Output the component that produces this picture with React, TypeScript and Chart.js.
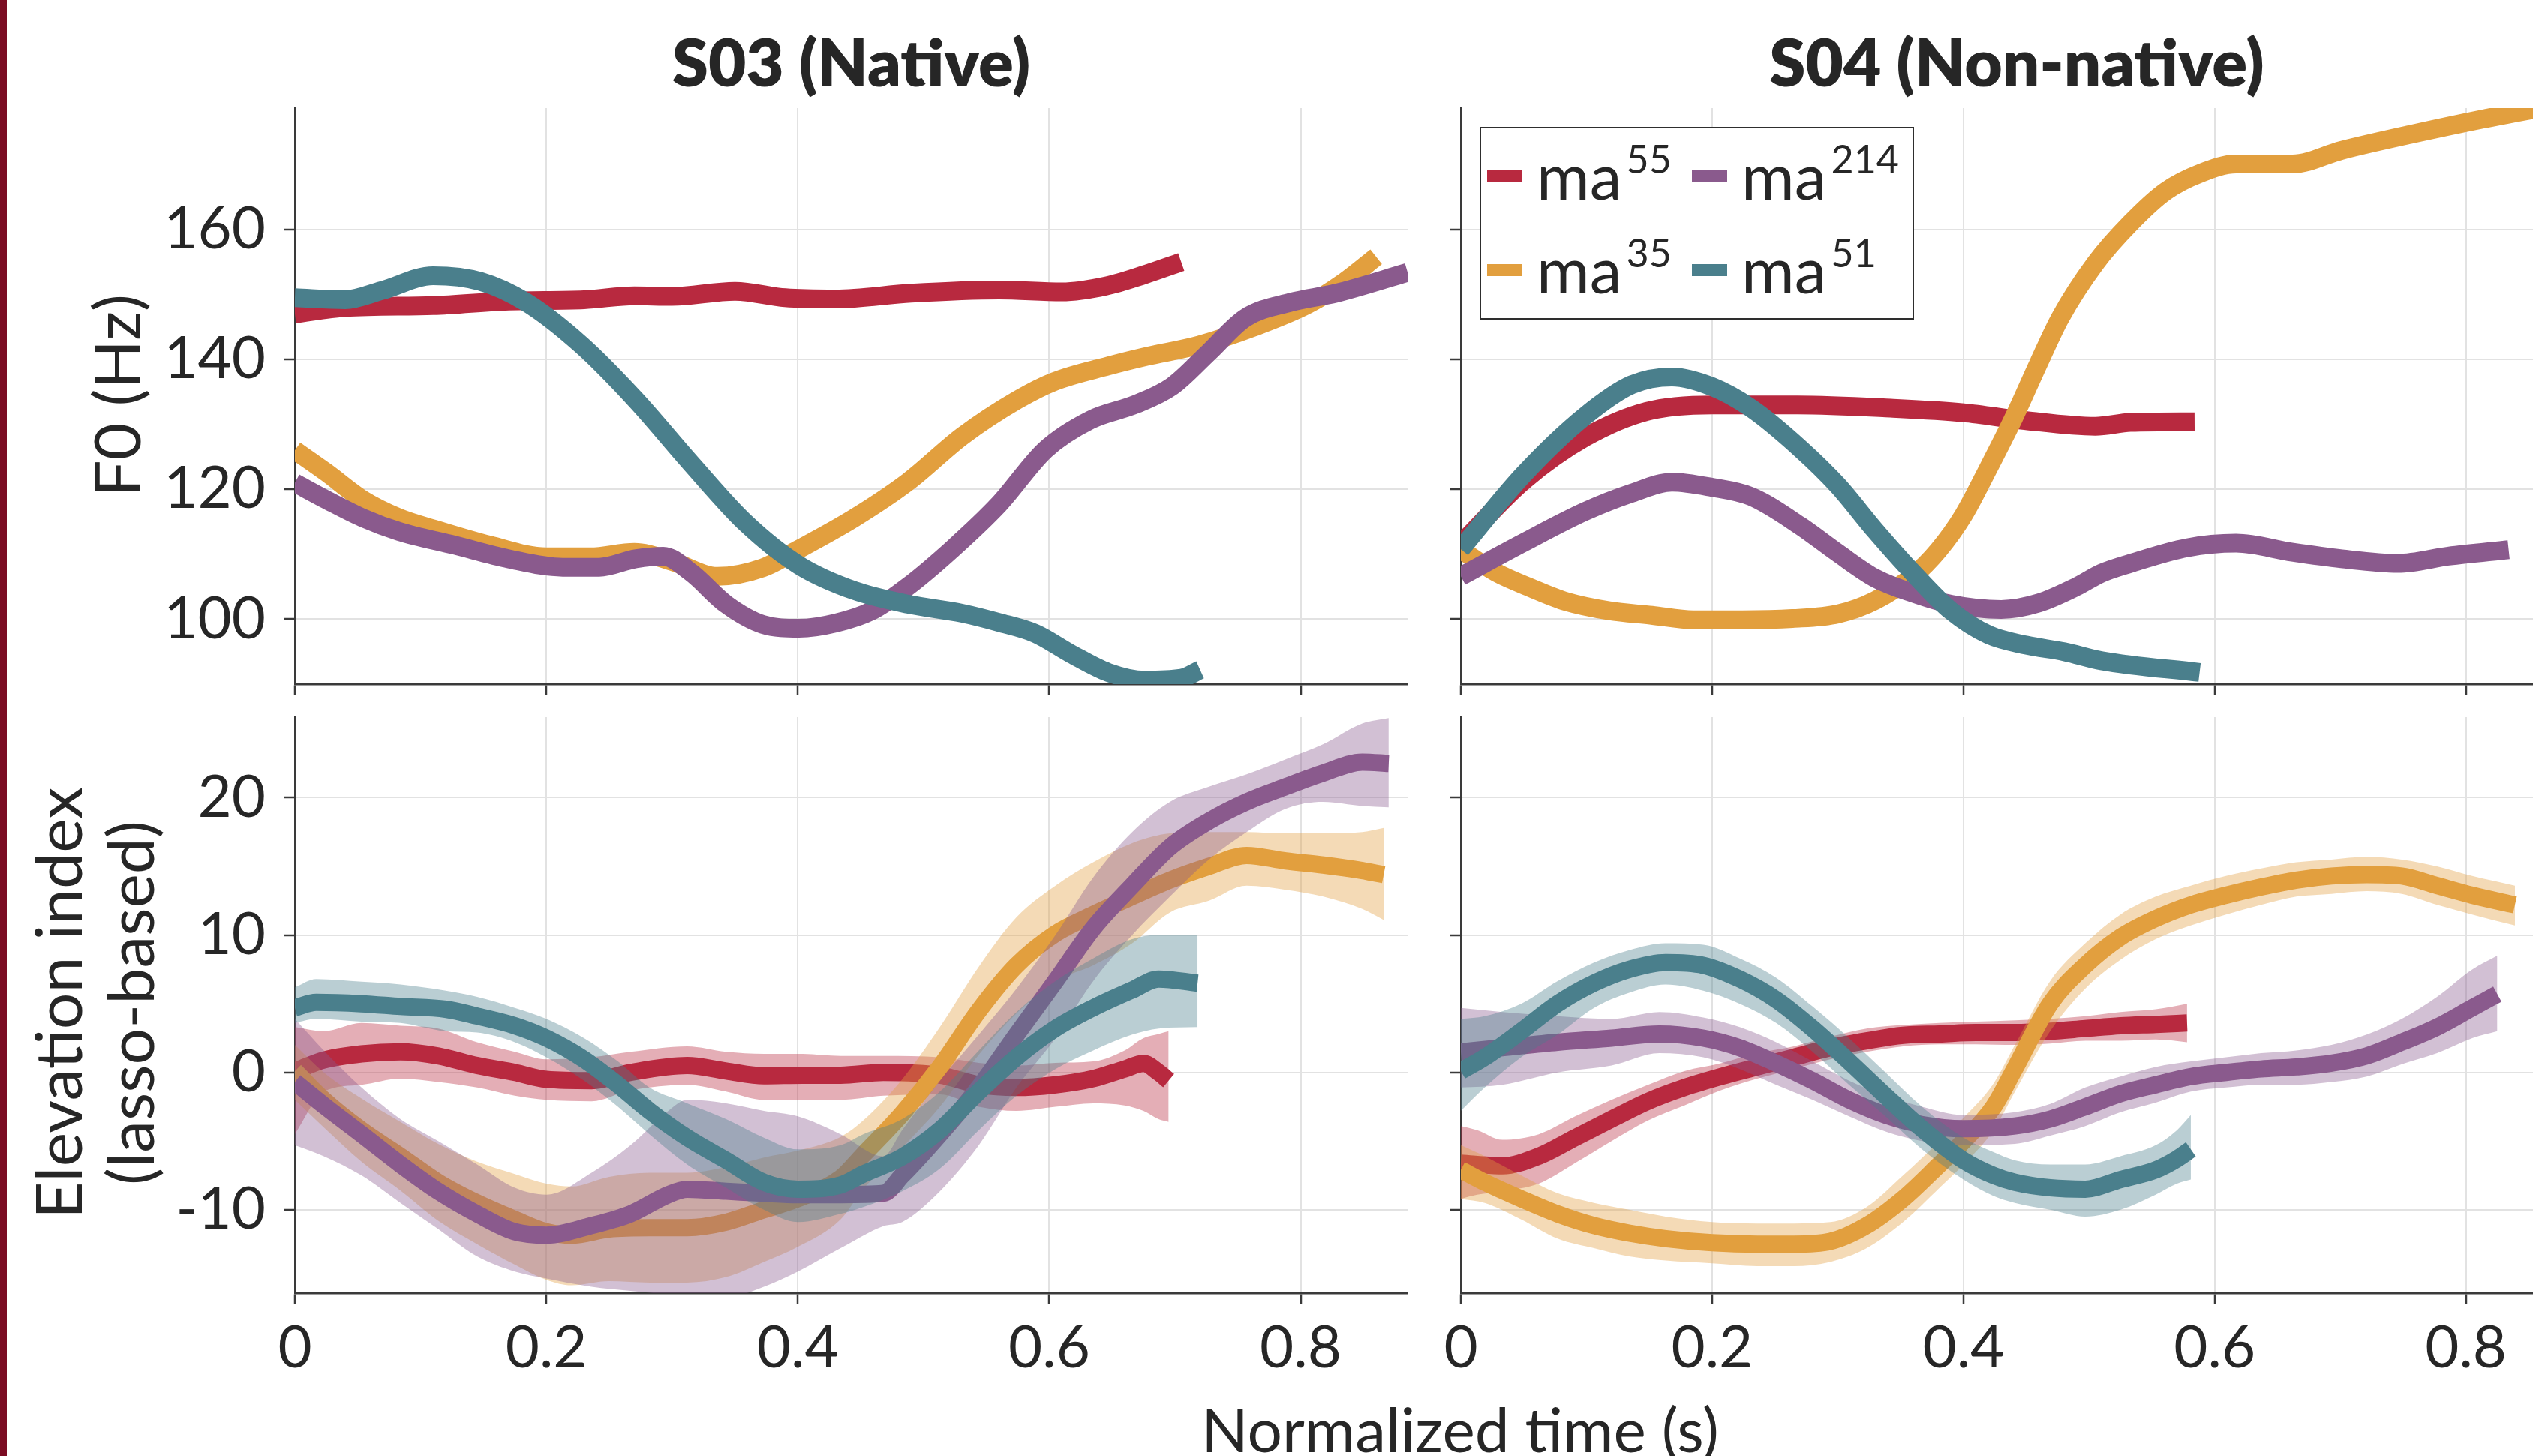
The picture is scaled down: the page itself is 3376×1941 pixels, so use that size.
import React, { useEffect, useRef } from "react";
import { Chart, registerables } from "chart.js";

Chart.register(...registerables);

// ---------- style constants ----------
const FONT = "Lato, 'Open Sans', 'DejaVu Sans', sans-serif";
const TEXT = "#262626";
const AXIS = "#3a3a3a";
const GRID = "#e2e2e2";

// ---------- categories / ticks ----------
const SERIES_KEYS = ["ma55", "ma35", "ma214", "ma51"]; // drawing order
const SERIES_SUP = { ma55: "55", ma35: "35", ma214: "214", ma51: "51" };
const SERIES_COLOR = { ma55: "#B8293F", ma35: "#E29F3E", ma214: "#8A5A8D", ma51: "#4A7F8C" };
const SERIES_BAND = {
  ma55: "rgba(184,41,63,0.38)",
  ma35: "rgba(226,159,62,0.38)",
  ma214: "rgba(138,90,141,0.38)",
  ma51: "rgba(74,127,140,0.38)",
};
const PANEL_TITLES = ["S03 (Native)", "S04 (Non-native)"];
const X_TITLE = "Normalized time (s)";
const F0_TITLE = ["F0 (Hz)"];
const ELEV_TITLE = ["Elevation index", "(lasso-based)"];

const X_TICKS = [0, 0.2, 0.4, 0.6, 0.8];
const F0_TICKS = [100, 120, 140, 160];
const ELEV_TICKS = [-10, 0, 10, 20];
const X_RANGE = [0, 0.885];
const F0_RANGE = [90, 178.7];
const ELEV_RANGE = [-16.07, 25.87];

// ---------- S03 F0 (top-left) ----------
const s03F0_ma55_t = [0, 0.04, 0.11, 0.17, 0.23, 0.27, 0.3, 0.35, 0.39, 0.43, 0.49, 0.56, 0.61, 0.645, 0.675, 0.705];
const s03F0_ma55 = [147.0, 148.0, 148.3, 149.0, 149.2, 149.8, 149.7, 150.5, 149.5, 149.3, 150.2, 150.7, 150.4, 151.3, 153.0, 155.0];
const s03F0_ma35_t = [0, 0.025, 0.054, 0.083, 0.112, 0.155, 0.2, 0.235, 0.27, 0.3, 0.336, 0.372, 0.4, 0.445, 0.488, 0.531, 0.575, 0.604, 0.647, 0.676, 0.719, 0.763, 0.806, 0.835, 0.86];
const s03F0_ma35 = [126.0, 122.6, 118.4, 115.6, 113.8, 111.4, 109.6, 109.6, 110.3, 108.9, 106.6, 107.9, 110.7, 115.6, 121.2, 128.2, 133.8, 136.6, 139.0, 140.4, 142.2, 145.0, 148.5, 152.0, 155.8];
const s03F0_ma214_t = [0, 0.025, 0.054, 0.083, 0.127, 0.17, 0.213, 0.242, 0.271, 0.293, 0.315, 0.343, 0.372, 0.401, 0.43, 0.459, 0.488, 0.524, 0.56, 0.597, 0.633, 0.669, 0.698, 0.727, 0.756, 0.792, 0.828, 0.885];
const s03F0_ma214 = [121.0, 118.4, 115.6, 113.5, 111.4, 109.3, 108.0, 108.0, 109.3, 109.7, 107.2, 102.3, 99.2, 98.6, 99.4, 101.3, 105.1, 111.0, 117.7, 126.1, 130.7, 133.1, 135.9, 141.1, 146.4, 148.8, 150.2, 153.4];
const s03F0_ma51_t = [0, 0.04, 0.069, 0.11, 0.148, 0.184, 0.228, 0.271, 0.315, 0.358, 0.401, 0.445, 0.488, 0.531, 0.56, 0.589, 0.618, 0.647, 0.676, 0.705, 0.72];
const s03F0_ma51 = [149.5, 149.2, 150.6, 152.9, 152.0, 148.8, 142.2, 133.8, 124.0, 114.9, 108.3, 104.4, 102.3, 100.9, 99.5, 97.8, 94.6, 91.8, 90.6, 90.9, 92.2];

// ---------- S04 F0 (top-right) ----------
const s04F0_ma55_t = [0, 0.05, 0.099, 0.148, 0.2, 0.268, 0.342, 0.4, 0.449, 0.505, 0.533, 0.584];
const s04F0_ma55 = [111.6, 121.3, 128.0, 132.0, 133.0, 133.0, 132.5, 131.8, 130.6, 129.7, 130.3, 130.4];
const s04F0_ma35_t = [0, 0.028, 0.056, 0.084, 0.118, 0.152, 0.185, 0.224, 0.264, 0.3, 0.33, 0.36, 0.38, 0.4, 0.42, 0.44, 0.46, 0.477, 0.505, 0.533, 0.561, 0.589, 0.617, 0.662, 0.701, 0.757, 0.813, 0.884];
const s04F0_ma35 = [110.7, 107.2, 104.8, 102.7, 101.3, 100.6, 99.9, 99.9, 100.1, 100.8, 102.9, 106.7, 110.6, 116.0, 123.3, 131.0, 139.5, 146.4, 154.8, 161.0, 165.9, 168.7, 170.1, 170.1, 172.2, 174.7, 177.0, 179.6];
const s04F0_ma214_t = [0, 0.05, 0.099, 0.136, 0.168, 0.2, 0.231, 0.27, 0.3, 0.33, 0.36, 0.39, 0.43, 0.46, 0.49, 0.51, 0.533, 0.578, 0.617, 0.662, 0.701, 0.746, 0.786, 0.834];
const s04F0_ma214 = [106.6, 111.8, 116.6, 119.4, 121.1, 120.3, 118.9, 114.4, 110.2, 106.3, 104.0, 102.3, 101.5, 102.5, 105.0, 107.1, 108.6, 111.0, 111.7, 110.3, 109.3, 108.6, 109.7, 110.7];
const s04F0_ma51_t = [0, 0.05, 0.099, 0.136, 0.168, 0.2, 0.231, 0.27, 0.3, 0.33, 0.36, 0.39, 0.42, 0.45, 0.48, 0.51, 0.588];
const s04F0_ma51 = [110.8, 122.3, 131.3, 136.1, 137.3, 135.8, 132.5, 126.3, 120.6, 113.6, 107.1, 101.3, 97.6, 96.0, 95.0, 93.6, 91.8];

// ---------- S03 elevation (bottom-left): mean, lower, upper ----------
const s03El_ma55_t = [0, 0.023, 0.053, 0.084, 0.114, 0.145, 0.175, 0.2, 0.236, 0.267, 0.312, 0.343, 0.373, 0.404, 0.434, 0.468, 0.513, 0.544, 0.574, 0.605, 0.635, 0.66, 0.675, 0.687, 0.695];
const s03El_ma55 = [0.1, 0.9, 1.35, 1.5, 1.2, 0.5, 0.0, -0.5, -0.6, 0.0, 0.5, 0.1, -0.25, -0.2, -0.2, 0.0, -0.2, -0.9, -1.1, -0.9, -0.45, 0.25, 0.65, 0.0, -0.6];
const s03El_ma55_lo = [-4.5, -1.4, -0.9, -0.45, -0.7, -1.1, -1.7, -2.0, -2.1, -1.3, -0.9, -1.4, -2.0, -2.0, -2.0, -1.7, -1.6, -2.5, -2.8, -2.5, -2.25, -2.4, -2.8, -3.4, -3.6];
const s03El_ma55_hi = [3.3, 3.0, 3.6, 3.4, 3.2, 2.2, 1.5, 0.95, 1.1, 1.5, 1.9, 1.5, 1.35, 1.35, 1.2, 1.2, 1.1, 0.7, 0.5, 0.7, 0.8, 1.6, 2.5, 2.8, 3.0];

const s03El_ma35_t = [0, 0.023, 0.053, 0.084, 0.114, 0.145, 0.175, 0.2, 0.22, 0.25, 0.282, 0.312, 0.343, 0.373, 0.4, 0.434, 0.452, 0.483, 0.513, 0.544, 0.574, 0.605, 0.635, 0.666, 0.696, 0.727, 0.757, 0.788, 0.818, 0.849, 0.866];
const s03El_ma35 = [0.1, -2.0, -4.2, -6.1, -8.0, -9.5, -10.7, -11.6, -11.85, -11.4, -11.3, -11.3, -10.9, -10.0, -9.2, -7.7, -6.0, -3.0, 0.4, 4.5, 7.8, 10.1, 11.5, 12.8, 14.0, 15.0, 15.8, 15.4, 15.1, 14.7, 14.4];
const s03El_ma35_lo = [-2.0, -4.0, -6.5, -8.6, -10.8, -12.5, -14.0, -15.1, -15.5, -15.2, -15.3, -15.3, -14.9, -13.8, -12.7, -10.7, -8.5, -5.5, -2.5, 1.3, 4.3, 6.65, 7.8, 9.4, 11.65, 12.5, 13.6, 13.3, 12.8, 11.9, 11.1];
const s03El_ma35_hi = [2.0, 0.0, -1.9, -3.6, -5.2, -6.5, -7.4, -8.1, -8.3, -7.6, -7.3, -7.3, -6.9, -6.2, -5.7, -4.7, -3.5, -0.5, 3.3, 7.7, 11.3, 13.6, 15.3, 16.7, 17.4, 17.5, 17.5, 17.4, 17.4, 17.5, 17.8];

const s03El_ma214_t = [0, 0.023, 0.053, 0.084, 0.114, 0.145, 0.175, 0.2, 0.236, 0.267, 0.297, 0.312, 0.343, 0.373, 0.4, 0.434, 0.468, 0.483, 0.513, 0.544, 0.574, 0.605, 0.635, 0.666, 0.696, 0.727, 0.757, 0.788, 0.818, 0.849, 0.87];
const s03El_ma214 = [-0.7, -2.4, -4.5, -6.7, -8.65, -10.3, -11.6, -11.85, -11.15, -10.3, -8.9, -8.5, -8.65, -8.8, -8.9, -8.9, -8.8, -7.5, -4.5, -1.1, 2.75, 6.65, 10.5, 13.6, 16.4, 18.3, 19.7, 20.8, 21.8, 22.6, 22.5];
const s03El_ma214_lo = [-5.3, -6.1, -7.5, -9.5, -11.4, -13.4, -14.5, -15.0, -15.6, -15.9, -16.2, -16.4, -16.4, -15.6, -14.5, -12.8, -11.2, -10.9, -8.65, -5.3, -1.1, 2.5, 6.65, 10.0, 12.8, 15.5, 17.5, 19.2, 19.7, 19.4, 19.3];
const s03El_ma214_hi = [3.9, 1.6, -1.1, -3.4, -5.0, -6.7, -8.4, -8.9, -7.3, -5.3, -2.8, -2.0, -2.25, -2.8, -3.2, -4.5, -6.1, -4.2, -0.6, 2.75, 6.1, 10.0, 14.2, 17.5, 19.7, 20.8, 21.7, 22.8, 23.9, 25.4, 25.8];

const s03El_ma51_t = [0, 0.017, 0.053, 0.084, 0.12, 0.145, 0.175, 0.2, 0.23, 0.257, 0.282, 0.312, 0.343, 0.373, 0.4, 0.434, 0.452, 0.483, 0.513, 0.544, 0.574, 0.605, 0.635, 0.666, 0.687, 0.718];
const s03El_ma51 = [4.7, 5.1, 5.0, 4.8, 4.6, 4.1, 3.4, 2.5, 0.95, -0.9, -2.8, -4.75, -6.4, -8.0, -8.5, -8.2, -7.4, -6.15, -4.2, -1.4, 1.1, 3.2, 4.7, 6.0, 6.8, 6.5];
const s03El_ma51_lo = [3.6, 3.9, 3.7, 3.6, 3.0, 2.9, 2.2, 1.1, -0.6, -2.5, -4.5, -6.7, -8.4, -10.0, -10.9, -10.3, -9.8, -8.65, -7.0, -4.2, -1.7, 0.25, 1.6, 2.75, 3.2, 3.3];
const s03El_ma51_hi = [6.2, 6.8, 6.6, 6.4, 5.95, 5.5, 4.7, 3.9, 2.5, 0.8, -1.1, -2.25, -3.4, -4.75, -5.6, -5.3, -4.5, -3.4, -1.4, 1.6, 4.4, 6.65, 8.3, 9.7, 10.0, 10.0];

// ---------- S04 elevation (bottom-right) ----------
const s04El_ma55_t = [0, 0.013, 0.033, 0.062, 0.091, 0.12, 0.149, 0.178, 0.207, 0.236, 0.265, 0.294, 0.323, 0.352, 0.381, 0.41, 0.441, 0.469, 0.497, 0.525, 0.553, 0.578];
const s04El_ma55 = [-6.6, -6.7, -6.8, -6.1, -4.75, -3.4, -2.1, -1.1, -0.3, 0.4, 1.1, 1.8, 2.3, 2.7, 2.8, 2.9, 2.9, 3.0, 3.2, 3.4, 3.5, 3.6];
const s04El_ma55_lo = [-9.2, -8.9, -8.65, -8.1, -6.6, -5.0, -3.5, -2.4, -1.3, -0.45, 0.25, 0.95, 1.5, 1.9, 2.05, 2.05, 2.0, 2.1, 2.3, 2.3, 2.4, 2.2];
const s04El_ma55_hi = [-3.9, -4.2, -4.9, -4.5, -3.2, -2.0, -0.9, 0.1, 0.67, 1.4, 1.9, 2.6, 3.2, 3.45, 3.6, 3.7, 3.8, 3.9, 4.1, 4.4, 4.6, 5.0];

const s04El_ma35_t = [0, 0.019, 0.048, 0.077, 0.106, 0.134, 0.163, 0.2, 0.236, 0.265, 0.294, 0.323, 0.352, 0.381, 0.4, 0.424, 0.441, 0.469, 0.497, 0.525, 0.553, 0.581, 0.609, 0.637, 0.665, 0.693, 0.721, 0.749, 0.777, 0.805, 0.839];
const s04El_ma35 = [-7.1, -8.0, -9.2, -10.3, -11.15, -11.7, -12.1, -12.4, -12.5, -12.5, -12.3, -11.15, -9.2, -6.7, -5.0, -2.5, 0.3, 5.0, 7.8, 9.85, 11.2, 12.2, 12.9, 13.5, 14.0, 14.3, 14.4, 14.3, 13.6, 12.9, 12.2];
const s04El_ma35_lo = [-9.2, -9.5, -10.7, -12.1, -12.8, -13.4, -13.7, -13.9, -14.1, -14.1, -13.8, -12.8, -10.9, -8.4, -6.7, -4.2, -1.4, 3.0, 6.1, 8.2, 9.7, 10.7, 11.5, 12.2, 12.8, 13.0, 13.2, 13.0, 12.2, 11.5, 10.7];
const s04El_ma35_hi = [-5.3, -6.1, -7.5, -8.8, -9.5, -10.0, -10.5, -10.9, -11.0, -11.0, -10.9, -9.8, -7.5, -5.0, -3.3, -0.8, 2.0, 6.65, 9.4, 11.5, 12.8, 13.6, 14.3, 14.85, 15.3, 15.5, 15.7, 15.5, 15.0, 14.3, 13.6];

const s04El_ma214_t = [0, 0.033, 0.077, 0.12, 0.158, 0.193, 0.222, 0.251, 0.28, 0.309, 0.338, 0.367, 0.4, 0.441, 0.469, 0.497, 0.525, 0.553, 0.581, 0.609, 0.637, 0.665, 0.693, 0.721, 0.749, 0.777, 0.805, 0.825];
const s04El_ma214 = [1.5, 1.8, 2.2, 2.5, 2.8, 2.5, 1.8, 0.67, -0.6, -2.0, -3.1, -3.8, -4.1, -3.9, -3.4, -2.5, -1.55, -0.9, -0.3, 0.0, 0.25, 0.4, 0.67, 1.2, 2.2, 3.3, 4.7, 5.7];
const s04El_ma214_lo = [-1.1, -0.9, 0.0, 0.5, 1.4, 1.1, 0.25, -0.9, -2.0, -3.2, -4.3, -5.0, -5.3, -5.2, -4.6, -3.9, -2.9, -2.2, -1.4, -1.1, -0.9, -0.9, -0.7, -0.3, 0.6, 1.4, 2.5, 3.0];
const s04El_ma214_hi = [4.7, 4.4, 4.1, 3.9, 4.4, 4.0, 3.3, 2.2, 0.8, -0.6, -1.7, -2.5, -3.1, -2.9, -2.3, -1.1, -0.3, 0.4, 0.8, 1.1, 1.4, 1.6, 2.0, 2.75, 3.9, 5.5, 7.5, 8.5];

const s04El_ma51_t = [0, 0.019, 0.048, 0.077, 0.106, 0.134, 0.163, 0.193, 0.222, 0.251, 0.28, 0.309, 0.338, 0.367, 0.4, 0.424, 0.441, 0.469, 0.497, 0.525, 0.553, 0.57, 0.581];
const s04El_ma51 = [0.1, 1.1, 3.0, 5.0, 6.5, 7.5, 8.0, 7.8, 6.8, 5.3, 3.2, 0.8, -1.7, -4.1, -6.4, -7.5, -8.0, -8.4, -8.5, -7.8, -7.1, -6.3, -5.6];
const s04El_ma51_lo = [-2.8, -1.1, 1.1, 2.75, 4.7, 5.8, 6.4, 5.95, 5.0, 3.6, 1.5, -0.9, -3.2, -5.6, -7.8, -9.0, -9.5, -10.0, -10.5, -10.0, -8.9, -8.1, -7.8];
const s04El_ma51_hi = [3.9, 4.1, 5.0, 6.65, 8.0, 8.9, 9.4, 9.3, 8.3, 6.9, 4.8, 2.5, 0.0, -2.5, -4.75, -5.8, -6.4, -6.7, -6.7, -6.1, -5.3, -4.2, -3.1];

// ---------- helpers ----------
const pts = (t: number[], y: number[]) => t.map((x, i) => ({ x, y: y[i] }));

type LineSpec = { key: string; t: number[]; y: number[]; lo?: number[]; hi?: number[] };

const S03_F0: LineSpec[] = [
  { key: "ma55", t: s03F0_ma55_t, y: s03F0_ma55 },
  { key: "ma35", t: s03F0_ma35_t, y: s03F0_ma35 },
  { key: "ma214", t: s03F0_ma214_t, y: s03F0_ma214 },
  { key: "ma51", t: s03F0_ma51_t, y: s03F0_ma51 },
];
const S04_F0: LineSpec[] = [
  { key: "ma55", t: s04F0_ma55_t, y: s04F0_ma55 },
  { key: "ma35", t: s04F0_ma35_t, y: s04F0_ma35 },
  { key: "ma214", t: s04F0_ma214_t, y: s04F0_ma214 },
  { key: "ma51", t: s04F0_ma51_t, y: s04F0_ma51 },
];
const S03_EL: LineSpec[] = [
  { key: "ma55", t: s03El_ma55_t, y: s03El_ma55, lo: s03El_ma55_lo, hi: s03El_ma55_hi },
  { key: "ma35", t: s03El_ma35_t, y: s03El_ma35, lo: s03El_ma35_lo, hi: s03El_ma35_hi },
  { key: "ma214", t: s03El_ma214_t, y: s03El_ma214, lo: s03El_ma214_lo, hi: s03El_ma214_hi },
  { key: "ma51", t: s03El_ma51_t, y: s03El_ma51, lo: s03El_ma51_lo, hi: s03El_ma51_hi },
];
const S04_EL: LineSpec[] = [
  { key: "ma55", t: s04El_ma55_t, y: s04El_ma55, lo: s04El_ma55_lo, hi: s04El_ma55_hi },
  { key: "ma35", t: s04El_ma35_t, y: s04El_ma35, lo: s04El_ma35_lo, hi: s04El_ma35_hi },
  { key: "ma214", t: s04El_ma214_t, y: s04El_ma214, lo: s04El_ma214_lo, hi: s04El_ma214_hi },
  { key: "ma51", t: s04El_ma51_t, y: s04El_ma51, lo: s04El_ma51_lo, hi: s04El_ma51_hi },
];

function buildDatasets(lines: LineSpec[], lineWidth: number) {
  const out: any[] = [];
  let k = 0;
  const common = { pointRadius: 0, pointHoverRadius: 0, cubicInterpolationMode: "monotone", clip: 0 };
  lines.forEach((s) => {
    if (s.lo && s.hi) {
      out.push({ ...common, data: pts(s.t, s.hi), borderColor: "rgba(0,0,0,0)", borderWidth: 0, backgroundColor: SERIES_BAND[s.key], fill: "+1", order: 1000 - k++ });
      out.push({ ...common, data: pts(s.t, s.lo), borderColor: "rgba(0,0,0,0)", borderWidth: 0, fill: false, order: 1000 - k++ });
    }
    out.push({ ...common, data: pts(s.t, s.y), borderColor: SERIES_COLOR[s.key], borderWidth: lineWidth, borderCapStyle: "butt", borderJoinStyle: "round", fill: false, order: 1000 - k++ });
  });
  return out;
}

// ---------- layout (px) ----------
const PAD_T = 60;
const PAD_R = 60;
const L_LEFT = 393, L_RIGHT = 1876, R_LEFT = 1947, R_RIGHT = 3429;
const TOP_T = 144, TOP_B = 912, BOT_T = 956, BOT_B = 1724;

type PanelProps = {
  lines: LineSpec[]; plotLeft: number; plotRight: number; plotTop: number; plotBottom: number;
  yAxisW: number; xAxisH: number; yRange: number[]; yTicks: number[]; showX: boolean; showY: boolean; lineWidth: number;
};

function Panel(p: PanelProps) {
  const ref = useRef<HTMLCanvasElement>(null);
  const left = p.plotLeft - p.yAxisW;
  const top = p.plotTop - PAD_T;
  const width = p.yAxisW + (p.plotRight - p.plotLeft) + PAD_R;
  const height = PAD_T + (p.plotBottom - p.plotTop) + p.xAxisH;
  useEffect(() => {
    const zero = (s: any) => { s.paddingTop = 0; s.paddingBottom = 0; s.paddingLeft = 0; s.paddingRight = 0; };
    const chart = new Chart(ref.current as HTMLCanvasElement, {
      type: "line",
      data: { datasets: buildDatasets(p.lines, p.lineWidth) },
      options: {
        responsive: false,
        animation: false,
        devicePixelRatio: 1,
        events: [],
        layout: { autoPadding: false, padding: { top: PAD_T, right: PAD_R, bottom: 0, left: 0 } },
        plugins: { legend: { display: false }, tooltip: { enabled: false }, title: { display: false } },
        scales: {
          x: {
            type: "linear", min: X_RANGE[0], max: X_RANGE[1],
            afterBuildTicks: (s: any) => { s.ticks = X_TICKS.map((v) => ({ value: v })); },
            afterFit: (s: any) => { s.height = p.xAxisH; zero(s); },
            grid: { color: GRID, lineWidth: 2, drawTicks: true, tickLength: 15, tickColor: AXIS, tickWidth: 2.5 },
            border: { display: true, color: AXIS, width: 2.5 },
            ticks: {
              display: p.showX, autoSkip: false, maxRotation: 0, padding: 20, color: TEXT,
              font: { family: FONT, size: 78, lineHeight: 1 },
              callback: (v: any) => (Number(v) === 0 ? "0" : Number(v).toFixed(1)),
            },
          },
          y: {
            type: "linear", min: p.yRange[0], max: p.yRange[1],
            afterBuildTicks: (s: any) => { s.ticks = p.yTicks.map((v) => ({ value: v })); },
            afterFit: (s: any) => { s.width = p.yAxisW; zero(s); },
            grid: { color: GRID, lineWidth: 2, drawTicks: true, tickLength: 15, tickColor: AXIS, tickWidth: 2.5 },
            border: { display: true, color: AXIS, width: 2.5 },
            ticks: {
              display: p.showY, autoSkip: false, padding: 24, color: TEXT,
              font: { family: FONT, size: 78, lineHeight: 1 },
              callback: (v: any) => String(v),
            },
          },
        },
      } as any,
    });
    return () => chart.destroy();
  }, []);
  return (
    <canvas
      ref={ref}
      width={width}
      height={height}
      style={{ position: "absolute", left, top, width, height }}
    />
  );
}

function RotatedText({ cx, cy, lines, size, lh }: { cx: number; cy: number; lines: string[]; size: number; lh: number }) {
  const W = 900;
  const H = lines.length * lh;
  return (
    <div
      style={{
        position: "absolute", left: cx - W / 2, top: cy - H / 2, width: W, height: H,
        transform: "rotate(-90deg)", transformOrigin: "50% 50%", textAlign: "center",
        fontFamily: FONT, fontSize: size, lineHeight: `${lh}px`, color: TEXT, whiteSpace: "nowrap",
      }}
    >
      {lines.map((l) => (
        <div key={l}>{l}</div>
      ))}
    </div>
  );
}

function CenteredText({ cx, top, text, size, weight }: { cx: number; top: number; text: string; size: number; weight?: number }) {
  const W = 1200;
  return (
    <div
      style={{
        position: "absolute", left: cx - W / 2, top, width: W, textAlign: "center",
        fontFamily: FONT, fontSize: size, lineHeight: `${size}px`, fontWeight: weight || 400,
        color: TEXT, whiteSpace: "nowrap",
      }}
    >
      {text}
    </div>
  );
}

function Legend() {
  // legend box in page px; items arranged column-major (2 columns)
  const box = { left: 1972, top: 169, width: 579, height: 257 };
  const cols = [8, 281];
  const rows = [66, 191];
  const items = [
    { key: "ma55", c: 0, r: 0 },
    { key: "ma35", c: 0, r: 1 },
    { key: "ma214", c: 1, r: 0 },
    { key: "ma51", c: 1, r: 1 },
  ];
  return (
    <div
      style={{
        position: "absolute", left: box.left, top: box.top, width: box.width, height: box.height,
        boxSizing: "border-box", border: "2px solid #2e2e2e", background: "#fff",
      }}
    >
      {items.map((it) => {
        const x = cols[it.c];
        const y = rows[it.r];
        const baseline = y + 29;
        return (
          <React.Fragment key={it.key}>
            <div style={{ position: "absolute", left: x, top: y - 10, width: 47, height: 16, background: SERIES_COLOR[it.key] }} />
            <div
              style={{
                position: "absolute", left: x + 66, top: baseline - 76, fontFamily: FONT, fontSize: 86,
                lineHeight: "86px", color: TEXT, whiteSpace: "nowrap",
              }}
            >
              ma
              <span style={{ fontSize: 52, position: "relative", top: -35, marginLeft: 6, verticalAlign: "baseline" }}>
                {SERIES_SUP[it.key]}
              </span>
            </div>
          </React.Fragment>
        );
      })}
    </div>
  );
}

export default function App() {
  return (
    <div style={{ position: "absolute", left: 0, top: 0, width: 3376, height: 1941, overflow: "hidden", background: "#fff" }}>
      <div style={{ position: "absolute", left: 0, top: 0, width: 9, height: 1941, background: "#7B0C22" }} />
      <Panel lines={S03_F0} plotLeft={L_LEFT} plotRight={L_RIGHT} plotTop={TOP_T} plotBottom={TOP_B}
        yAxisW={200} xAxisH={30} yRange={F0_RANGE} yTicks={F0_TICKS} showX={false} showY={true} lineWidth={25} />
      <Panel lines={S04_F0} plotLeft={R_LEFT} plotRight={R_RIGHT} plotTop={TOP_T} plotBottom={TOP_B}
        yAxisW={40} xAxisH={30} yRange={F0_RANGE} yTicks={F0_TICKS} showX={false} showY={false} lineWidth={25} />
      <Panel lines={S03_EL} plotLeft={L_LEFT} plotRight={L_RIGHT} plotTop={BOT_T} plotBottom={BOT_B}
        yAxisW={200} xAxisH={150} yRange={ELEV_RANGE} yTicks={ELEV_TICKS} showX={true} showY={true} lineWidth={23} />
      <Panel lines={S04_EL} plotLeft={R_LEFT} plotRight={R_RIGHT} plotTop={BOT_T} plotBottom={BOT_B}
        yAxisW={40} xAxisH={150} yRange={ELEV_RANGE} yTicks={ELEV_TICKS} showX={true} showY={false} lineWidth={23} />

      <CenteredText cx={1134.5} top={38} text={PANEL_TITLES[0]} size={87} weight={800} />
      <CenteredText cx={2688} top={38} text={PANEL_TITLES[1]} size={87} weight={800} />
      <CenteredText cx={1946} top={1863} text={X_TITLE} size={82} />
      <RotatedText cx={154} cy={527} lines={F0_TITLE} size={86} lh={86} />
      <RotatedText cx={124} cy={1337} lines={ELEV_TITLE} size={86} lh={96} />
      <Legend />
    </div>
  );
}
